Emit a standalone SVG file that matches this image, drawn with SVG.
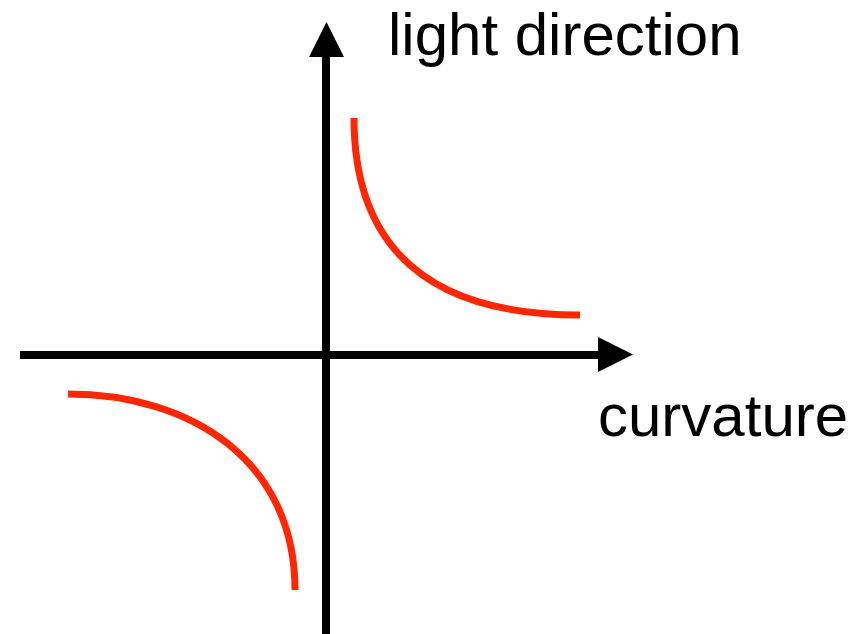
<svg xmlns="http://www.w3.org/2000/svg" width="858" height="634" viewBox="0 0 858 634">
<style>
.axis{stroke:#000;stroke-width:8;fill:none}
.head{fill:#000}
.curve{stroke:#ff2600;stroke-width:7;fill:none}
.lbl{font-family:"Liberation Sans",Arial,sans-serif;font-size:60px;fill:#000}
</style>
<rect width="858" height="634" fill="#fff"/>
<g id="connectors">
<line class="axis" x1="326" y1="634" x2="326" y2="55"/>
<polygon class="head" points="326.5,22 309,57 344,57"/>
<line class="axis" x1="20" y1="355" x2="600" y2="355"/>
<polygon class="head" points="633,354.5 598,337 598,372"/>
</g>
<g id="curve-upper">
<path class="curve" d="M354,118 C354,220 400,315 580,315"/>
</g>
<g id="curve-lower">
<path class="curve" d="M68,394 C190,394 295,460 295,590"/>
</g>
<g id="label-light">
<text class="lbl" x="388" y="55">light direction</text>
</g>
<g id="label-curvature">
<text class="lbl" x="598" y="436">curvature</text>
</g>
</svg>
